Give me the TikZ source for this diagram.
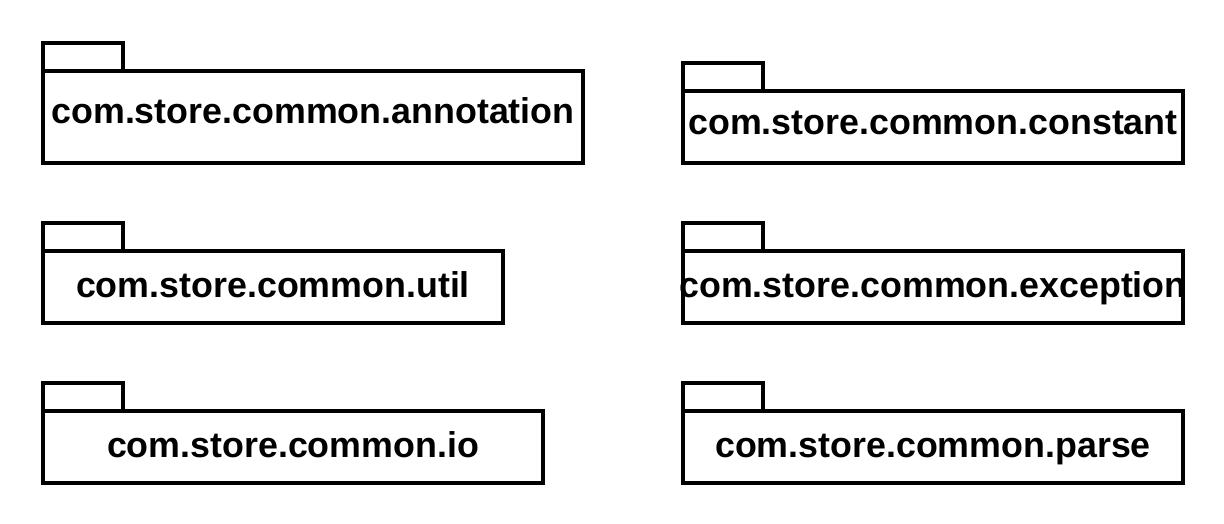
\documentclass[tikz,border=0pt]{standalone}
\usepackage{fontspec}
\setmainfont{Liberation Sans}
\begin{document}
\begin{tikzpicture}[x=1pt,y=-1pt,
  pkgbody/.style={draw=black, line width=4pt, fill=white, inner sep=0pt, outer sep=0pt},
  pkgtab/.style={draw=black, line width=4pt},
  pkglabel/.style={anchor=base, inner sep=0pt, font=\fontsize{35.8}{43}\selectfont\bfseries}
]
\useasboundingbox (0,0) rectangle (1224,524);
% package 1
\node[pkgbody, minimum width=540pt, minimum height=92pt] (b1) at (313,117) {};
\draw[pkgtab] (b1.north west) -- ++(0,-28) -- ++(80,0) -- ++(0,28);
\node[pkglabel] (l1) at (313,124) {com.store.common.annotation};
% package 2
\node[pkgbody, minimum width=500pt, minimum height=72pt] (b2) at (933,127) {};
\draw[pkgtab] (b2.north west) -- ++(0,-28) -- ++(80,0) -- ++(0,28);
\node[pkglabel] (l2) at (933,135) {com.store.common.constant};
% package 3
\node[pkgbody, minimum width=460pt, minimum height=72pt] (b3) at (273,287) {};
\draw[pkgtab] (b3.north west) -- ++(0,-28) -- ++(80,0) -- ++(0,28);
\node[pkglabel] (l3) at (273,297) {com.store.common.util};
% package 4
\node[pkgbody, minimum width=500pt, minimum height=72pt] (b4) at (933,287) {};
\draw[pkgtab] (b4.north west) -- ++(0,-28) -- ++(80,0) -- ++(0,28);
\node[pkglabel] (l4) at (933,297) {com.store.common.exception};
% package 5
\node[pkgbody, minimum width=500pt, minimum height=72pt] (b5) at (293,447) {};
\draw[pkgtab] (b5.north west) -- ++(0,-28) -- ++(80,0) -- ++(0,28);
\node[pkglabel] (l5) at (293,457) {com.store.common.io};
% package 6
\node[pkgbody, minimum width=500pt, minimum height=72pt] (b6) at (933,447) {};
\draw[pkgtab] (b6.north west) -- ++(0,-28) -- ++(80,0) -- ++(0,28);
\node[pkglabel] (l6) at (933,457) {com.store.common.parse};
\end{tikzpicture}
\end{document}
